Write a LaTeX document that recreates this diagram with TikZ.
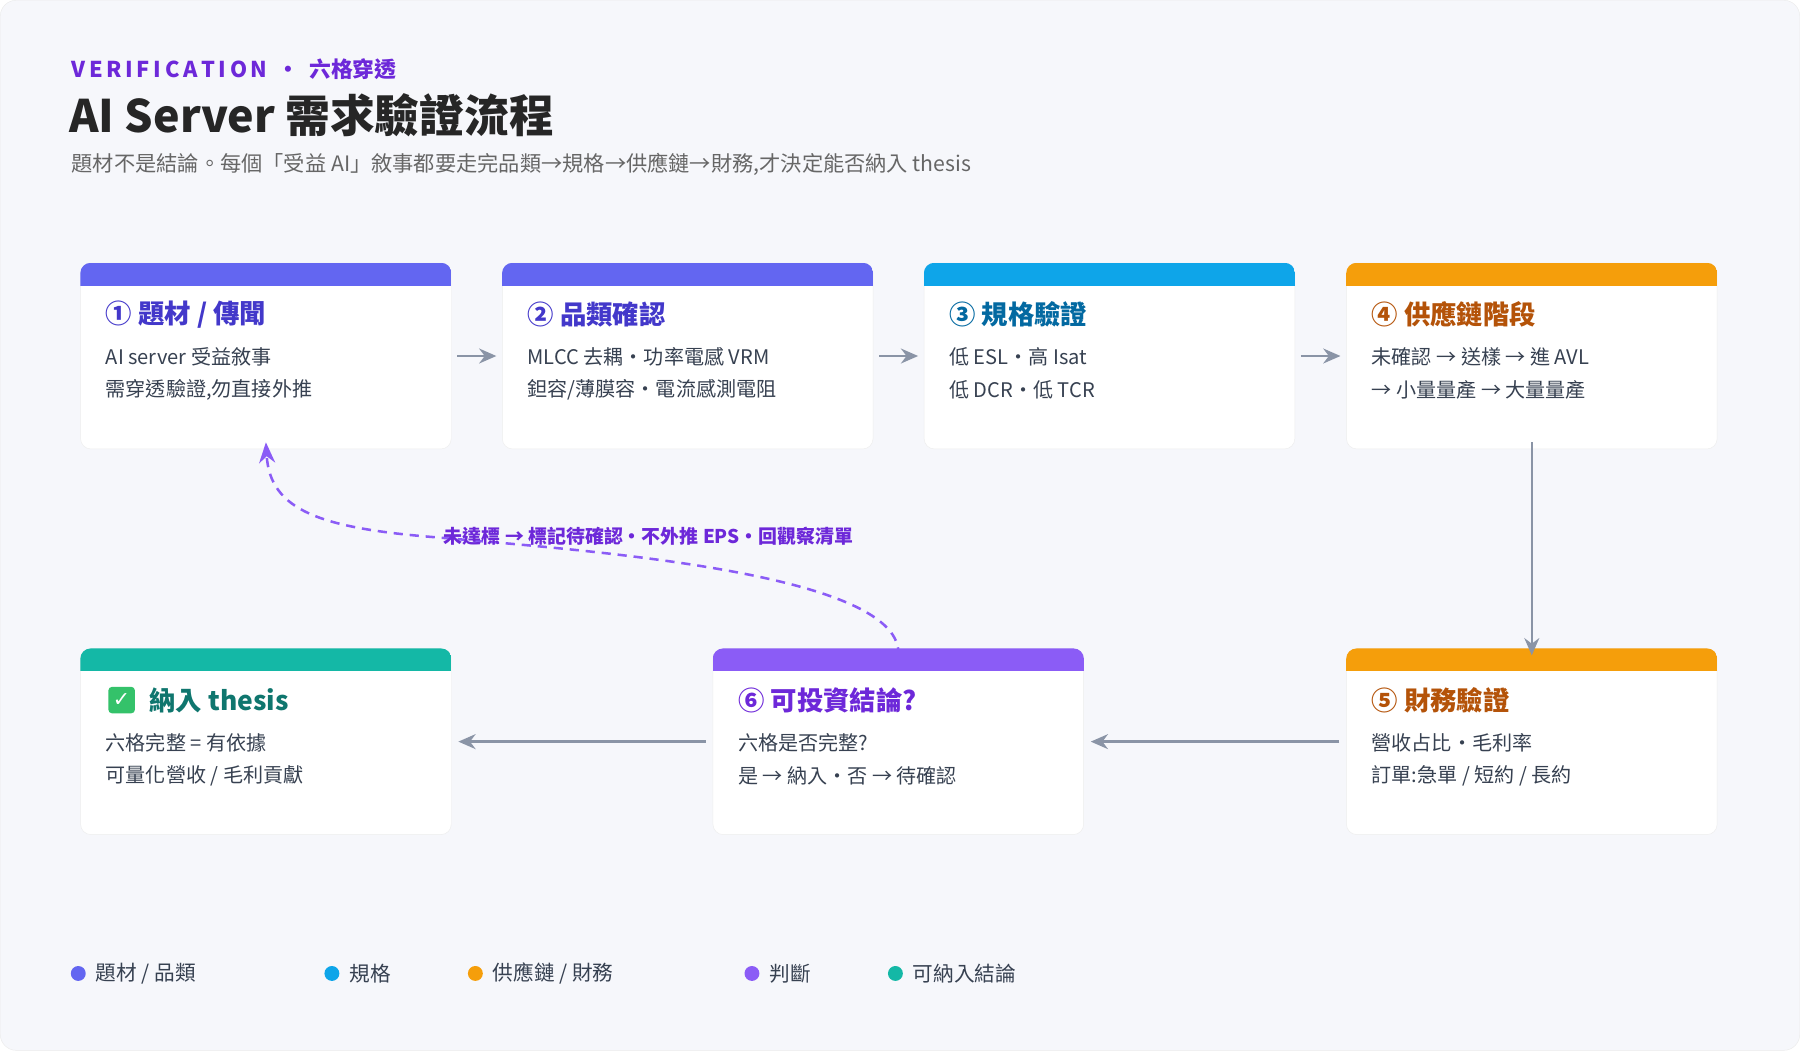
\documentclass[tikz,border=0pt]{standalone}
\usepackage{fontspec}
\setmainfont{Noto Sans CJK TC}
\newfontfamily\symfont{DejaVu Sans}
\usetikzlibrary{arrows.meta}
\definecolor{cIndigo}{HTML}{6366F1}
\definecolor{cSky}{HTML}{0EA5E9}
\definecolor{cAmber}{HTML}{F59E0B}
\definecolor{cViolet}{HTML}{8B5CF6}
\definecolor{cTeal}{HTML}{14B8A6}
\definecolor{tIndigo}{HTML}{4338CA}
\definecolor{tSky}{HTML}{0369A1}
\definecolor{tAmber}{HTML}{B45309}
\definecolor{tViolet}{HTML}{6D28D9}
\definecolor{tTeal}{HTML}{0F766E}
\definecolor{cGray}{HTML}{8A94A6}
\definecolor{cText}{HTML}{374151}
\definecolor{cBg}{HTML}{F6F7FB}
\definecolor{cCheck}{HTML}{34C26A}
\newcommand{\card}[8]{%
  \node[card] (#1) at (#2,#3) {};
  \begin{scope}
    \clip[rounded corners=9] (#1.south west) rectangle (#1.north east);
    \fill[#4] (#1.north west) rectangle ([yshift=-20]#1.north east);
  \end{scope}
  \node[head, text=#5] (#1t) at ([xshift=22,yshift=-45]#1.north west) {#6};
  \node[body] (#1a) at ([xshift=22,yshift=-82]#1.north west) {#7};
  \node[body] (#1b) at ([xshift=22,yshift=-111]#1.north west) {#8};
}
\begin{document}
\begin{tikzpicture}[x=1pt,y=-1pt,
  card/.style={draw=black!7, fill=white, rounded corners=9, minimum width=323pt, minimum height=162pt, inner sep=0pt},
  head/.style={anchor=west, font=\fontsize{23}{26}\selectfont\bfseries, inner sep=0pt},
  body/.style={anchor=west, font=\fontsize{17.5}{20}\selectfont, text=cText, inner sep=0pt},
  flow/.style={draw=cGray, line width=2.2pt, -{Stealth[length=15pt,width=13pt]}},
  legend/.style={anchor=west, font=\fontsize{18}{20}\selectfont, text=cText, inner sep=0pt},
  dot/.style={circle, inner sep=0pt, minimum size=13pt}]
\fill[cBg, draw=black!8, rounded corners=14] (0,0) rectangle (1568,915);
% header
\node[anchor=west, inner sep=0pt, text=tViolet, font=\fontsize{19}{22}\selectfont\bfseries] (kick) at (62,60) {V\,E\,R\,I\,F\,I\,C\,A\,T\,I\,O\,N \ · \ 六格穿透};
\node[anchor=west, inner sep=0pt, text=black!85, font=\fontsize{39}{44}\selectfont\bfseries] (title) at (60,100) {AI Server 需求驗證流程};
\node[anchor=west, inner sep=0pt, text=black!60, font=\fontsize{18.5}{21}\selectfont] (sub) at (62,143) {題材不是結論。每個「受益 AI」敘事都要走完品類→規格→供應鏈→財務,才決定能否納入 thesis};
% cards
\card{b1}{231.5}{310}{cIndigo}{tIndigo}{① 題材 / 傳聞}{AI server 受益敘事}{需穿透驗證,勿直接外推}
\card{b2}{599}{310}{cIndigo}{tIndigo}{② 品類確認}{MLCC 去耦・功率電感 VRM}{鉭容/薄膜容・電流感測電阻}
\card{b3}{966.5}{310}{cSky}{tSky}{③ 規格驗證}{低 ESL・高 Isat}{低 DCR・低 TCR}
\card{b4}{1334.5}{310}{cAmber}{tAmber}{④ 供應鏈階段}{未確認 → 送樣 → 進 AVL}{→ 小量量產 → 大量量產}
\card{b5}{1334.5}{646}{cAmber}{tAmber}{⑤ 財務驗證}{營收占比・毛利率}{訂單:急單 / 短約 / 長約}
\card{b6}{782.5}{646}{cViolet}{tViolet}{⑥ 可投資結論?}{六格是否完整?}{是 → 納入・否 → 待確認}
\card{b7}{231.5}{646}{cTeal}{tTeal}{\hspace{38pt}納入 thesis}{六格完整 = 有依據}{可量化營收 / 毛利貢獻}
\node[fill=cCheck, rounded corners=3, minimum size=23pt, inner sep=0pt, text=white, font=\symfont\bfseries\fontsize{18}{18}\selectfont] (chk) at ([xshift=14]b7t.west) {✓};
% connectors
\draw[flow] ([xshift=5]b1.east) -- ([xshift=-5]b2.west);
\draw[flow] ([xshift=5]b2.east) -- ([xshift=-5]b3.west);
\draw[flow] ([xshift=5]b3.east) -- ([xshift=-5]b4.west);
\draw[flow] ([yshift=6]b4.south) -- ([yshift=-6]b5.north);
\draw[flow] ([xshift=-6]b5.west) -- ([xshift=6]b6.east);
\draw[flow] ([xshift=-6]b6.west) -- ([xshift=6]b7.east);
\draw[draw=cViolet, line width=2.2pt, dash pattern=on 8pt off 6pt, -{Stealth[length=18pt,width=14pt]}]
  ([yshift=-7]b6.north) .. controls (790,500) and (520,480) .. (380,468)
  .. controls (280,460) and (235,445) .. ([yshift=6]b1.south);
\node[inner sep=0pt, text=tViolet, font=\fontsize{16.5}{19}\selectfont\bfseries] (loop) at (565,467) {未達標 → 標記待確認・不外推 EPS・回觀察清單};
% legend
\node[dot, fill=cIndigo] (d1) at (68,848) {};
\node[legend] (l1) at (83,848) {題材 / 品類};
\node[dot, fill=cSky] (d2) at (289,848) {};
\node[legend] (l2) at (304,848) {規格};
\node[dot, fill=cAmber] (d3) at (414,848) {};
\node[legend] (l3) at (429,848) {供應鏈 / 財務};
\node[dot, fill=cViolet] (d4) at (655,848) {};
\node[legend] (l4) at (670,848) {判斷};
\node[dot, fill=cTeal] (d5) at (780,848) {};
\node[legend] (l5) at (795,848) {可納入結論};
\end{tikzpicture}
\end{document}
